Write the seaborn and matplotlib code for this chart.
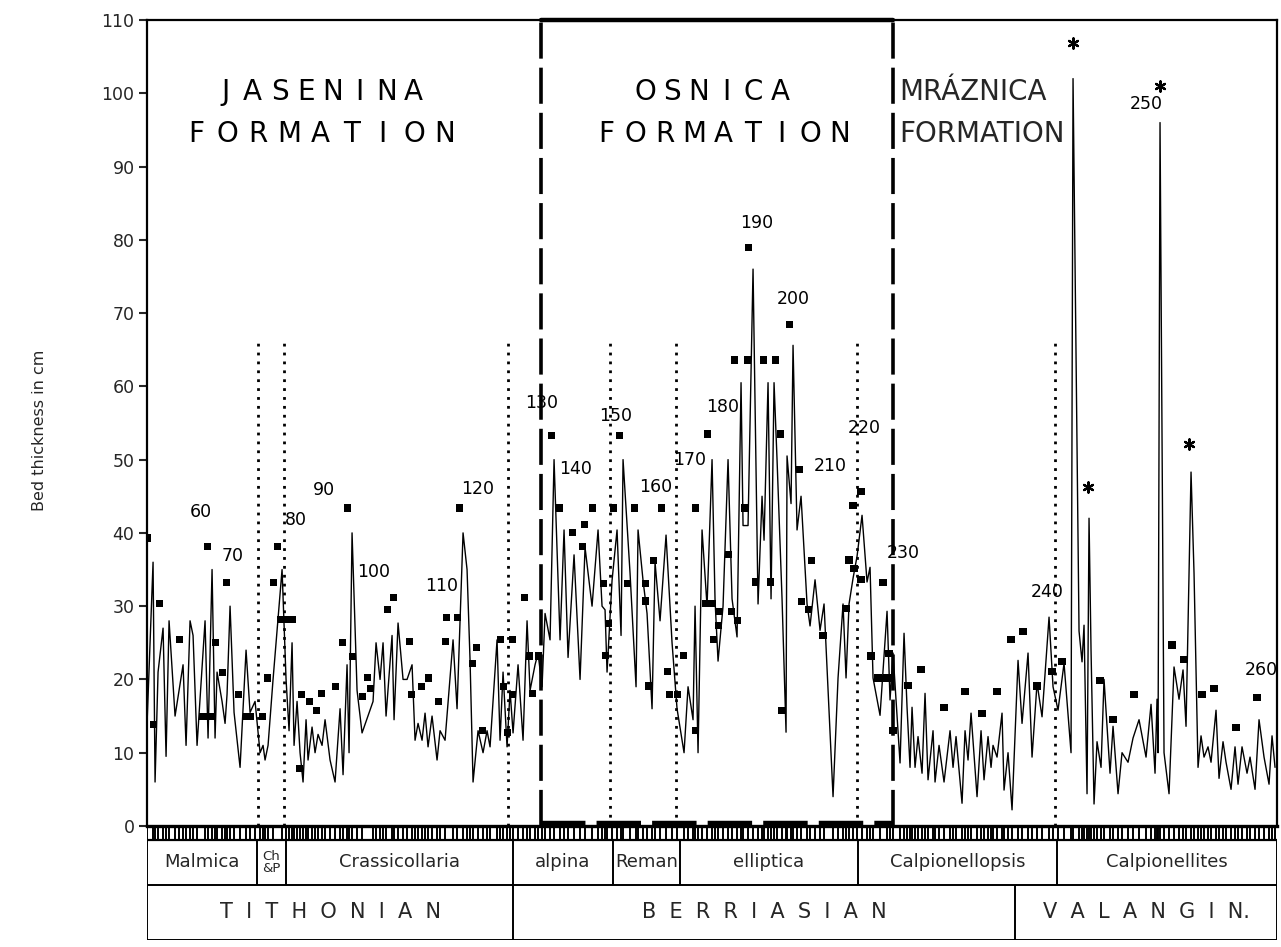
import matplotlib
matplotlib.use("Agg")
import matplotlib.pyplot as plt
import seaborn as sns
import pandas as pd

# ---------------- data ----------------
# stratigraphic position (arbitrary units along section) and bed thickness (cm)
bed_pos = [0.0, 0.6, 0.8, 1.1, 1.6, 1.9, 2.2, 2.8, 3.2, 3.6, 3.9, 4.3, 4.6, 5.0, 5.8, 6.1, 6.5, 6.8, 7.0, 7.5,
           7.8, 8.0, 8.3, 8.7, 9.3, 9.9, 10.3, 10.8, 11.3, 11.6, 11.8, 12.1, 12.6, 13.5, 13.9, 14.2, 14.5, 14.7,
           15.0, 15.3, 15.6, 15.9, 16.1, 16.5, 16.8, 17.1, 17.5, 17.8, 18.3, 18.8, 19.3, 19.6, 20.0, 20.2, 20.5,
           21.0, 21.5, 22.6, 22.9, 23.3, 23.6, 23.9, 24.5, 24.7, 25.1, 25.6, 26.0, 26.5, 26.8, 27.1, 27.5, 27.8,
           28.1, 28.5, 29.0, 29.3, 29.8, 30.6, 31.0, 31.6, 32.0, 32.3, 32.6, 33.1, 33.6, 34.0, 34.3, 35.0, 35.3,
           35.6, 36.0, 36.3, 36.6, 37.1, 37.6, 38.0, 38.3, 38.8, 39.1, 39.5, 39.8, 40.3, 40.7, 41.3, 41.7, 42.1,
           42.7, 43.3, 43.8, 44.5, 45.1, 45.5, 45.8, 46.0, 46.5, 47.0, 47.4, 47.6, 48.3, 48.9, 49.1, 49.6, 50.0,
           50.5, 50.8, 51.3, 51.9, 52.5, 53.0, 53.7, 54.1, 54.6, 54.8, 55.1, 55.5, 56.0, 56.5, 56.8, 57.1, 57.6,
           58.1, 58.5, 59.0, 59.4, 59.6, 60.1, 60.6, 61.1, 61.5, 61.7, 62.1, 62.4, 62.7, 63.0, 63.5, 63.9, 64.0,
           64.4, 64.6, 65.0, 65.4, 66.0, 66.3, 66.8, 67.3, 67.7, 68.6, 69.1, 69.6, 69.9, 70.2, 70.6, 71.0, 71.5,
           72.0, 72.3, 72.6, 73.3, 74.0, 74.3, 74.6, 75.3, 75.7, 76.0, 76.3, 76.5, 76.8, 77.1, 77.5, 77.8, 78.1,
           78.6, 78.8, 79.2, 79.7, 80.3, 80.6, 80.9, 81.5, 81.8, 82.1, 82.4, 83.0, 83.4, 83.7, 84.1, 84.4, 84.6,
           85.0, 85.5, 85.7, 86.1, 86.5, 87.1, 87.5, 88.1, 88.5, 89.0, 89.5, 90.2, 90.6, 91.1, 91.7, 92.4, 92.6,
           93.2, 93.5, 93.7, 94.0, 94.2, 94.4, 94.7, 95.0, 95.4, 95.7, 96.3, 96.6, 97.1, 97.5, 98.1, 98.6, 99.2,
           99.9, 100.4, 100.8, 101.0, 101.1, 101.3, 101.7, 102.2, 102.7, 103.2, 103.6, 103.9, 104.4, 104.7,
           105.1, 105.4, 105.7, 106.1, 106.4, 106.9, 107.2, 107.6, 107.9, 108.4, 108.8, 109.1, 109.5, 110.0,
           110.3, 110.8, 111.2, 111.7, 112.2, 112.5, 112.8]
bed_thick = [14, 36, 6, 21, 27, 9.5, 28, 15, 18.5, 22, 11, 28, 26, 11, 28, 12, 35, 12, 21, 17,
             14, 18, 30, 15.5, 8, 24, 15.5, 17, 10, 11, 9, 11, 20, 35, 20, 13, 25, 11,
             17, 10, 6, 14.5, 9, 13.5, 10, 12.5, 11, 14.5, 9, 6, 16, 7, 22, 10, 40,
             18.5, 12.7, 17, 25, 20, 25, 15, 26, 14.5, 27.7, 20, 20, 22, 11.7, 14, 11.7, 15.4,
             10.8, 15, 9, 13, 11.7, 25.4, 16, 40, 35, 22.6, 6, 13, 10, 13, 10.8, 25.4, 11.7,
             21, 10.8, 18.5, 12.7, 22, 11.7, 28, 18.5, 22, 23.6, 19, 29, 25.4, 50, 25.4, 40.4, 23,
             37, 20, 38, 30, 40.4, 30, 29.5, 21, 33.5, 40.4, 26, 50, 34.5, 19, 40.4, 33.5, 29,
             16, 36, 28, 39.7, 25, 16, 10, 19, 14.5, 30, 10, 40.4, 30, 50, 30.8, 22.5, 30,
             50, 31, 25.8, 60.5, 41, 41, 76, 30.3, 45, 39, 60.5, 31, 60.5, 50, 31, 12.8, 50.5,
             44, 65.6, 40.4, 45, 30.3, 27.3, 33.6, 26.7, 30.3, 4, 20.2, 30.3, 20.2, 30.3, 33.8, 36.8, 42.4,
             33.3, 35.3, 20.2, 15.1, 29.3, 17.2, 23.6, 8.6, 26.3, 16.2, 8, 16.2, 8, 12.2, 7.2, 18.1, 6.3,
             13, 6, 11, 6, 13, 8, 12.2, 3.1, 13, 9, 15.4, 4, 13, 6.3, 12.2, 8, 11,
             9.4, 15.4, 4.9, 10, 2.2, 22.6, 14, 23.6, 9.4, 19.5, 14.9, 28.5, 19, 15.8, 22.2, 10, 102,
             26.6, 22.4, 27.4, 4.4, 42, 24, 3, 11.5, 8, 20, 7.2, 13.6, 4.4, 10, 8.7, 12, 14.5,
             9.4, 16.6, 7.2, 17.3, 10, 96, 10, 4.4, 21.7, 17.3, 21.3, 13.6, 48.3, 34.5,
             8, 12.3, 9.4, 10.8, 8.7, 15.8, 6.5, 11.5, 8.7, 5, 10.8, 5.7, 10.8, 7.2,
             9.4, 5, 14.5, 9.4, 5.7, 12.3, 8]

# square symbols (second series)
sq_pos = [0.0, 0.6, 1.2, 3.2, 5.5, 6.0, 6.0, 6.5, 6.8, 7.5, 7.9, 9.1, 9.9, 10.3, 11.5, 12.0, 12.6, 13.0,
          13.3, 14.0, 14.5, 15.2, 15.4, 16.2, 16.9, 17.4, 18.8, 19.5, 20.0, 20.5, 21.5, 22.0, 22.3, 24.0,
          24.6, 26.2, 26.4, 27.4, 28.1, 29.1, 29.8, 29.9, 31.0, 31.2, 32.5, 32.9, 33.5, 35.3, 35.6, 36.0,
          36.5, 36.5, 37.7, 38.2, 38.5, 39.1, 40.4, 41.2, 42.5, 43.5, 43.7, 44.5, 45.6, 45.8, 46.1, 46.6,
          47.2, 48.0, 48.7, 49.8, 49.8, 50.1, 50.6, 51.4, 52.0, 52.2, 53.0, 53.6, 54.8, 54.8, 55.8, 56.0,
          56.5, 56.6, 57.1, 57.2, 58.1, 58.4, 58.7, 59.0, 59.7, 60.0, 60.1, 60.8, 61.6, 62.3, 62.8, 63.3,
          63.4, 64.2, 65.2, 65.4, 66.1, 66.4, 67.6, 69.9, 70.2, 70.6, 70.7, 71.4, 71.4, 72.4, 73.1, 73.6,
          74.0, 74.2, 74.6, 76.1, 77.4, 79.7, 81.8, 83.5, 85.0, 86.4, 87.6, 89.0, 90.5, 91.5, 95.3, 96.6,
          98.7, 102.5, 103.7, 105.5, 106.7, 108.9, 111.0]
sq_val = [39.3, 13.8, 30.4, 25.4, 15, 15, 38.2, 15, 25, 20.9, 33.2, 17.9, 15, 15, 14.9, 20.2, 33.2, 38.2,
          28.2, 28.2, 28.2, 7.9, 18, 17, 15.8, 18.1, 19, 25.1, 43.4, 23.1, 17.7, 20.3, 18.8, 29.5,
          31.2, 25.2, 17.9, 19, 20.2, 17, 25.2, 28.5, 28.5, 43.4, 22.2, 24.4, 13, 25.4, 19, 12.8,
          25.4, 17.9, 31.2, 23.2, 18.1, 23.2, 53.3, 43.4, 40, 38.1, 41.2, 43.4, 33.1, 23.3, 27.6, 43.4,
          53.3, 33.1, 43.4, 33.1, 30.7, 19.1, 36.2, 43.4, 21.1, 18, 18, 23.3, 43.4, 13, 30.4, 53.5,
          30.4, 25.5, 27.4, 29.3, 37.1, 29.3, 63.6, 28, 43.4, 63.6, 79, 33.3, 63.6, 33.3, 63.6, 53.5,
          15.8, 68.5, 48.6, 30.6, 29.5, 36.2, 26, 29.7, 36.3, 43.7, 35.2, 45.6, 33.6, 23.2, 20.2, 33.2,
          20.2, 23.5, 13, 19.2, 21.3, 16.2, 18.4, 15.3, 18.4, 25.4, 26.5, 19.1, 21.1, 22.4, 19.8, 14.5,
          17.9, 24.7, 22.7, 17.9, 18.7, 13.5, 17.5]

# asterisks above extreme beds
ast_pos = [92.6, 94.1, 101.3, 104.2]
ast_val = [106.8, 46.2, 101.0, 52.1]

# bed numbers
bed_no = ["60", "70", "80", "90", "100", "110", "120", "130", "140", "150", "160", "170", "180",
          "190", "200", "210", "220", "230", "240", "250", "260"]
bed_no_pos = [5.4, 8.6, 14.9, 17.7, 22.7, 29.5, 33.1, 39.5, 42.9, 46.9, 50.9, 54.3, 57.6,
              61.0, 64.6, 68.3, 71.7, 75.6, 90.0, 99.9, 111.4]
bed_no_val = [42.8, 36.8, 41.7, 45.8, 34.7, 32.7, 46.0, 57.7, 48.7, 55.9, 46.3, 50.0, 57.2,
              82.3, 71.9, 49.1, 54.3, 37.2, 32.0, 98.5, 21.3]

# biozone boundaries (dotted) and formation boundaries (dashed)
zone_lines = [11.1, 13.7, 36.1, 46.3, 52.9, 71.0, 90.8]
formation_lines = [39.4, 74.6]

zones = ["Malmica", "Ch\n&P", "Crassicollaria", "alpina", "Reman", "elliptica", "Calpionellopsis", "Calpionellites"]
zone_edges = [0.0, 11.0, 13.9, 36.6, 46.6, 53.3, 71.1, 91.0, 113.0]
stages = ["T  I  T  H  O  N  I  A  N", "B  E  R  R  I  A  S  I  A  N", "V  A  L  A  N  G  I  N."]
stage_edges = [0.0, 36.6, 86.8, 113.0]

y_ticks = [0, 10, 20, 30, 40, 50, 60, 70, 80, 90, 100, 110]

# ---------------- plotting ----------------
sns.set_style("white")
plt.rcParams["font.family"] = ["DejaVu Sans"]

fig = plt.figure(figsize=(12.81, 9.47), dpi=100)
ax = fig.add_axes([0.1148, 0.1278, 0.8821, 0.8511])

df_line = pd.DataFrame({"pos": bed_pos, "thick": bed_thick})
sns.lineplot(data=df_line, x="pos", y="thick", ax=ax, color="black", lw=1.0,
             sort=False, estimator=None)
df_sq = pd.DataFrame({"pos": sq_pos, "val": sq_val})
sns.scatterplot(data=df_sq, x="pos", y="val", ax=ax, marker="s", color="black",
                s=26, edgecolor="none", zorder=4)
ax.scatter(ast_pos, ast_val, marker=(6, 2, 0), s=55, color="black", lw=1.6, zorder=5)

for t, x, y in zip(bed_no, bed_no_pos, bed_no_val):
    ax.text(x, y, t, ha="center", va="center", fontsize=12.5, color="black")

ax.vlines(zone_lines, 0, 66, colors="black", linestyles=(0, (1, 2.2)), lw=2.0)
for x in formation_lines:
    ax.plot([x, x], [0, 110], color="black", lw=2.6, ls=(0, (10, 2.5)), zorder=3)
ax.plot(formation_lines, [0.4, 0.4], color="black", lw=3.2, ls=(0, (10, 2.5)), zorder=3)
ax.plot(formation_lines, [110, 110], color="black", lw=3.2, zorder=3, clip_on=False)


def spaced(axis, text, x0, x1, y, size=20):
    """Place letters evenly between x0 and x1 (letter centres)."""
    n = len(text)
    for i, ch in enumerate(text):
        xc = x0 + (x1 - x0) * i / (n - 1)
        axis.text(xc, y, ch, ha="center", va="center", fontsize=size, color="black")


# formation names
spaced(ax, "JASENINA", 7.9, 26.6, 100.2)
spaced(ax, "FORMATION", 4.9, 29.8, 94.5)
spaced(ax, "OSNICA", 49.8, 63.3, 100.2)
spaced(ax, "FORMATION", 45.9, 69.3, 94.5)
ax.text(75.2, 100.2, "MRÁZNICA", ha="left", va="center", fontsize=20)
ax.text(75.2, 94.5, "FORMATION", ha="left", va="center", fontsize=20)

ax.set_xlim(0, 113)
ax.set_ylim(0, 110)
ax.set_yticks(y_ticks)
ax.set_yticklabels([str(v) for v in y_ticks], fontsize=12.5)
ax.set_xticks([])
ax.set_xlabel("")
ax.set_ylabel("")
ax.tick_params(axis="y", direction="out", length=6, width=1.5, left=True, pad=3)
for s in ax.spines.values():
    s.set_visible(True)
    s.set_color("black")
    s.set_linewidth(1.6)
ax.spines["bottom"].set_linewidth(2.4)

fig.text(0.031, 0.546, "Bed thickness in cm", rotation=90, ha="center", va="center", fontsize=11.5)

# ---------------- stratigraphic bands ----------------
bx = fig.add_axes([0.1148, 0.0074, 0.8821, 0.1204])
bx.set_xlim(0, 113)
bx.set_ylim(0, 114)
bx.axis("off")
# bed ruler
bx.vlines(bed_pos, 100, 114, colors="black", lw=1.4)
bx.hlines([100, 114], 0, 113, colors="black", lw=1.6)
# zone row
bx.hlines([55, 100], 0, 113, colors="black", lw=1.4)
bx.vlines(zone_edges, 55, 100, colors="black", lw=1.4)
for i, z in enumerate(zones):
    xc = (zone_edges[i] + zone_edges[i + 1]) / 2
    if "\n" in z:
        bx.text(xc, 77.5, z, ha="center", va="center", fontsize=9.5, linespacing=0.85)
    else:
        bx.text(xc, 77.5, z, ha="center", va="center", fontsize=13)
# stage row
bx.hlines([0], 0, 113, colors="black", lw=1.4)
bx.vlines(stage_edges, 0, 55, colors="black", lw=1.4)
for i, s in enumerate(stages):
    xc = (stage_edges[i] + stage_edges[i + 1]) / 2
    bx.text(xc, 28, s, ha="center", va="center", fontsize=15)

fig.savefig("out.png", dpi=100, facecolor="white")
